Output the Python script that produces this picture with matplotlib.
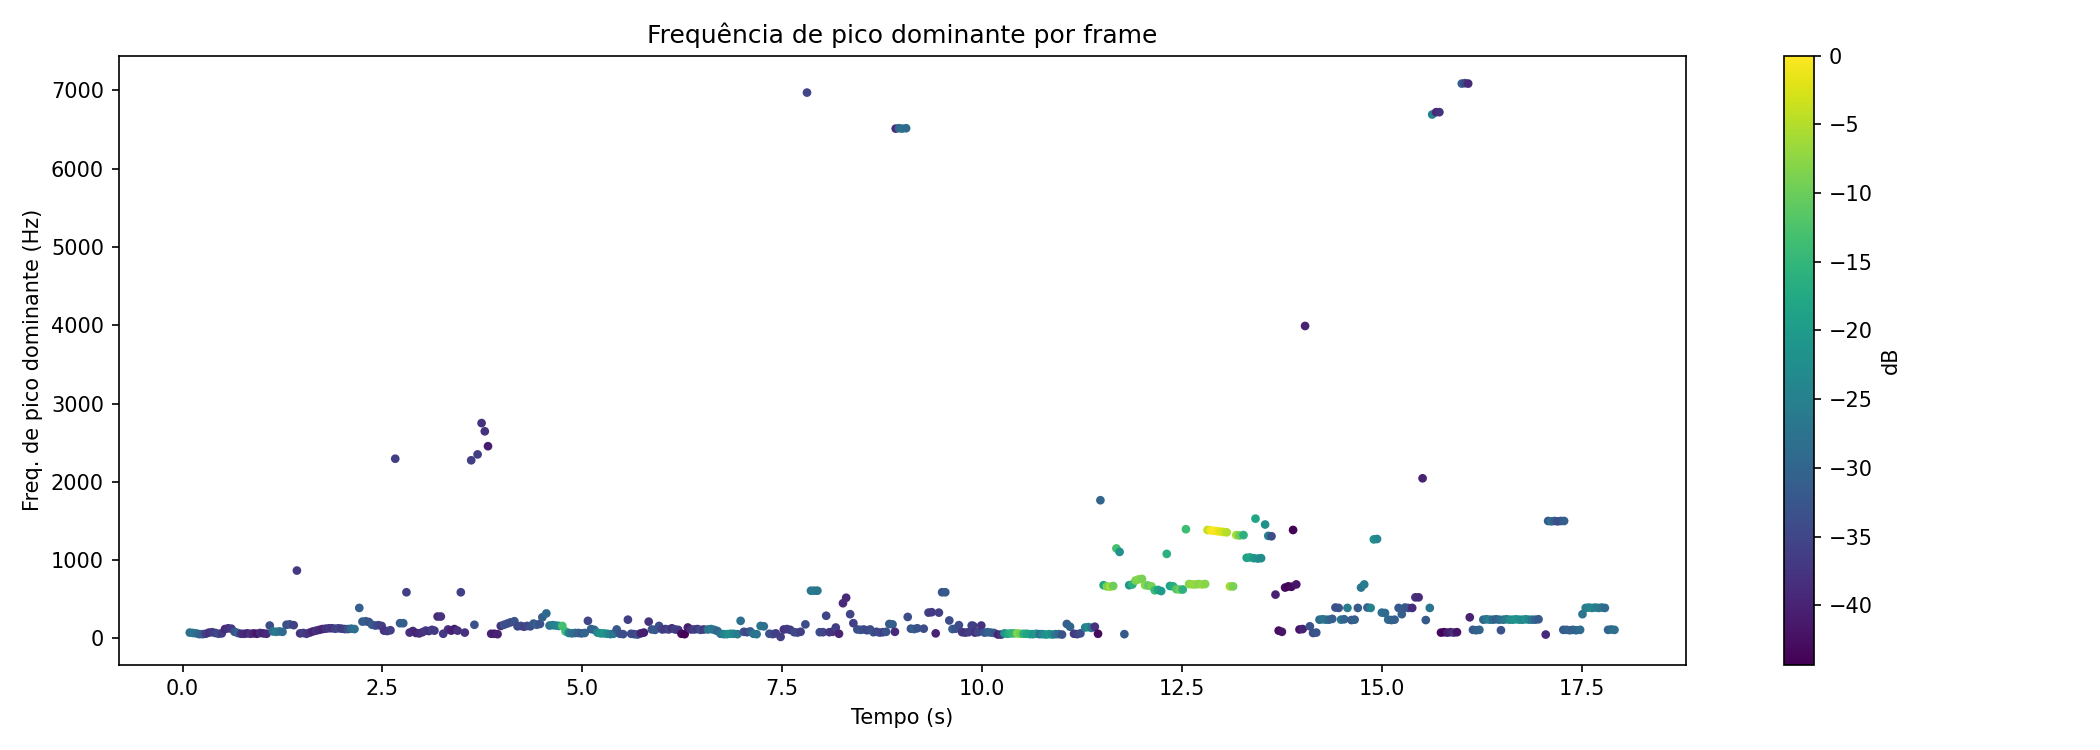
import numpy as np
import matplotlib.pyplot as plt

# tempo de cada frame (s)
tempo = [
    0.09, 0.13, 0.17, 0.21, 0.25, 0.29, 0.33, 0.37, 0.41, 0.45, 0.49, 0.53, 0.57, 0.61, 0.65, 0.69, 0.73, 0.77, 0.81, 0.85, 0.89, 0.93, 0.97, 1.01, 1.05,
    1.09, 1.13, 1.17, 1.21, 1.25, 1.30, 1.34, 1.39, 1.43, 1.47, 1.51, 1.55, 1.59, 1.63, 1.67, 1.71, 1.75, 1.79, 1.83, 1.87, 1.91, 1.95, 1.99, 2.03, 2.07, 2.11, 2.15,
    2.21, 2.25, 2.29, 2.33, 2.37, 2.41, 2.45, 2.49, 2.52, 2.56, 2.60, 2.66, 2.72, 2.76, 2.80, 2.84, 2.88, 2.92, 2.96, 3.00,
    3.04, 3.08, 3.12, 3.15, 3.19, 3.23, 3.26, 3.32, 3.36, 3.40, 3.44, 3.48, 3.53, 3.61, 3.65, 3.69, 3.74, 3.78, 3.82, 3.86, 3.90, 3.94, 3.98,
    4.02, 4.06, 4.10, 4.15, 4.19, 4.23, 4.27, 4.31, 4.35, 4.39, 4.43, 4.47, 4.50, 4.55, 4.59, 4.63, 4.67, 4.71, 4.75, 4.79, 4.83, 4.87, 4.91, 4.95, 4.99,
    5.03, 5.07, 5.11, 5.15, 5.19, 5.23, 5.27, 5.31, 5.35, 5.39, 5.43, 5.47, 5.51, 5.57, 5.61, 5.65, 5.69, 5.73, 5.77, 5.83, 5.87, 5.91, 5.96, 6.00,
    6.04, 6.08, 6.12, 6.16, 6.20, 6.24, 6.28, 6.32, 6.36, 6.40, 6.44, 6.48, 6.52, 6.57, 6.61, 6.65, 6.69, 6.73, 6.77, 6.81, 6.85, 6.89, 6.94, 6.98,
    7.02, 7.06, 7.10, 7.14, 7.18, 7.23, 7.27, 7.34, 7.38, 7.42, 7.48, 7.52, 7.56, 7.60, 7.65, 7.69, 7.73, 7.79, 7.81, 7.86, 7.90, 7.94, 7.97,
    8.01, 8.05, 8.09, 8.13, 8.17, 8.21, 8.26, 8.30, 8.35, 8.39, 8.44, 8.48, 8.52, 8.56, 8.60, 8.64, 8.68, 8.72, 8.76, 8.80, 8.84, 8.88, 8.91, 8.92, 8.96, 9.00,
    9.05, 9.07, 9.11, 9.15, 9.19, 9.27, 9.33, 9.37, 9.42, 9.46, 9.50, 9.54, 9.59, 9.63, 9.67, 9.71, 9.75, 9.79, 9.83, 9.87, 9.89, 9.91, 9.95, 9.99,
    10.03, 10.07, 10.11, 10.15, 10.20, 10.24, 10.28, 10.32, 10.36, 10.40, 10.44, 10.48, 10.52, 10.56, 10.60, 10.64, 10.68, 10.72, 10.76, 10.80, 10.84, 10.88, 10.92, 10.96, 11.00, 11.06, 11.10, 11.15, 11.19, 11.23, 11.29, 11.33, 11.37, 11.41, 11.45,
    11.48, 11.52, 11.56, 11.60, 11.64, 11.68, 11.72, 11.78, 11.84, 11.88, 11.92, 11.96, 12.00, 12.04, 12.08, 12.12, 12.16, 12.20, 12.24, 12.31, 12.35, 12.39, 12.43, 12.47, 12.51, 12.55,
    12.59, 12.63, 12.67, 12.71, 12.75, 12.79, 12.82, 12.86, 12.90, 12.94, 12.98, 13.02, 13.06, 13.10, 13.14, 13.18, 13.22, 13.27, 13.31, 13.35, 13.40, 13.42, 13.45, 13.49, 13.54, 13.58, 13.62,
    13.67, 13.71, 13.75, 13.79, 13.83, 13.87, 13.89, 13.93, 13.97, 14.01, 14.04, 14.10, 14.14, 14.18, 14.22, 14.26, 14.30, 14.34, 14.38, 14.42, 14.46, 14.49,
    14.53, 14.57, 14.62, 14.66, 14.70, 14.74, 14.78, 14.82, 14.86, 14.90, 14.94, 15.00, 15.04, 15.08, 15.12, 15.16, 15.21, 15.25, 15.29, 15.33, 15.38, 15.42, 15.46, 15.51,
    15.55, 15.60, 15.63, 15.68, 15.72, 15.74, 15.78, 15.82, 15.86, 15.90, 15.94, 16.00, 16.04, 16.08, 16.10, 16.14, 16.18, 16.22, 16.27, 16.31, 16.35, 16.39, 16.43, 16.47,
    16.49, 16.52, 16.56, 16.60, 16.64, 16.68, 16.72, 16.76, 16.80, 16.84, 16.88, 16.92, 16.96, 17.05, 17.08, 17.12, 17.16, 17.20, 17.24, 17.28, 17.27, 17.31, 17.35, 17.39, 17.43, 17.48, 17.51, 17.55, 17.59, 17.63, 17.67, 17.71, 17.75, 17.79, 17.83, 17.87, 17.91,
]

# frequencia de pico dominante (Hz)
freq_pico = [
    75, 70, 65, 55, 55, 60, 75, 80, 70, 60, 65, 120, 130, 125, 85, 70, 60, 60, 65, 60, 65, 60, 70, 65, 60,
    165, 90, 85, 90, 85, 175, 180, 170, 867, 65, 70, 60, 75, 90, 100, 110, 120, 125, 130, 130, 125, 130, 125, 120, 120, 125, 120,
    390, 215, 220, 210, 175, 165, 170, 160, 100, 95, 105, 2295, 195, 195, 590, 75, 95, 70, 65, 80,
    100, 95, 110, 100, 280, 280, 60, 115, 100, 120, 100, 590, 75, 2275, 175, 2350, 2750, 2645, 2455, 60, 60, 55, 160,
    175, 190, 205, 220, 155, 160, 150, 160, 155, 190, 175, 185, 270, 320, 165, 170, 165, 160, 160, 90, 70, 65, 70, 70, 65,
    70, 225, 120, 110, 75, 65, 65, 60, 55, 60, 115, 60, 55, 240, 60, 55, 50, 65, 75, 215, 115, 110, 160, 115,
    120, 115, 130, 115, 110, 60, 55, 140, 115, 115, 120, 110, 115, 115, 120, 110, 95, 60, 55, 55, 60, 60, 55, 225,
    85, 80, 90, 60, 55, 160, 155, 60, 55, 65, 20, 115, 120, 110, 80, 75, 85, 180, 6970, 610, 610, 610, 80,
    80, 290, 80, 85, 140, 60, 450, 520, 310, 195, 115, 110, 115, 105, 115, 80, 85, 75, 80, 85, 185, 180, 85, 6510, 6515, 6510,
    6515, 275, 125, 120, 130, 125, 330, 335, 65, 330, 590, 590, 230, 120, 125, 170, 80, 75, 80, 165, 160, 75, 80, 165,
    75, 80, 75, 70, 50, 50, 65, 60, 65, 65, 65, 60, 60, 60, 55, 55, 60, 55, 55, 50, 55, 50, 55, 55, 50, 185, 150, 60, 55, 65, 140, 145, 135, 150, 60,
    1765, 680, 665, 660, 670, 1150, 1105, 55, 680, 690, 740, 755, 760, 680, 675, 665, 615, 620, 605, 1080, 670, 665, 630, 625, 625, 1395,
    695, 690, 690, 695, 690, 695, 1385, 1380, 1375, 1370, 1365, 1360, 1355, 665, 665, 1320, 1315, 1320, 1030, 1035, 1025, 1530, 1020, 1025, 1455, 1310, 1305,
    560, 100, 85, 650, 665, 660, 1385, 690, 115, 120, 3990, 155, 70, 75, 240, 245, 240, 240, 250, 395, 390, 240,
    245, 390, 235, 240, 390, 650, 690, 395, 390, 1265, 1270, 330, 325, 240, 235, 240, 390, 310, 395, 390, 390, 525, 525, 2045,
    235, 390, 6690, 6720, 6720, 75, 80, 75, 80, 75, 80, 7085, 7090, 7085, 270, 110, 105, 110, 240, 245, 240, 240, 245, 240,
    105, 240, 245, 240, 240, 245, 240, 240, 245, 240, 240, 240, 245, 50, 1500, 1495, 1500, 1495, 1500, 1500, 110, 110, 105, 110, 105, 110, 310, 390, 395, 390, 395, 390, 395, 390, 110, 115, 110,
]

# magnitude do pico (dB)
mag_db = [
    -28, -27, -28, -30, -31, -36, -38, -37, -36, -34, -37, -39, -38, -37, -33, -30, -38, -39, -40, -38, -40, -42, -39, -40, -39,
    -34, -28, -26, -27, -29, -34, -33, -36, -37, -38, -36, -37, -38, -40, -38, -39, -40, -38, -37, -38, -36, -35, -37, -36, -33, -29, -28,
    -31, -32, -31, -33, -32, -33, -35, -36, -38, -37, -36, -36, -32, -31, -36, -38, -39, -40, -39, -38,
    -37, -38, -36, -37, -39, -38, -37, -38, -40, -41, -38, -36, -38, -36, -33, -36, -38, -38, -41, -40, -41, -40, -38,
    -33, -34, -34, -33, -35, -34, -36, -35, -34, -32, -31, -33, -31, -29, -27, -26, -25, -24, -13, -14, -25, -28, -29, -31, -32,
    -30, -35, -31, -30, -24, -22, -21, -23, -25, -27, -32, -33, -34, -36, -34, -35, -33, -40, -41, -38, -33, -32, -34, -36,
    -37, -35, -38, -36, -37, -43, -44.3, -41, -38, -36, -37, -34, -37, -28, -26, -27, -30, -28, -25, -23, -22, -24, -26, -28,
    -33, -35, -32, -28, -27, -27, -28, -33, -34, -36, -36, -38, -37, -37, -35, -34, -36, -34, -35, -27, -26, -27, -34,
    -35, -35, -37, -38, -36, -40, -39, -39, -35, -36, -34, -33, -34, -35, -34, -33, -35, -34, -36, -33, -32, -31, -39, -39, -29, -28,
    -29, -34, -33, -31, -33, -34, -36, -37, -40, -36, -33, -32, -34, -31, -33, -34, -37, -38, -36, -35, -36, -38, -35, -38,
    -33, -31, -30, -32, -40, -38, -22, -18, -16, -15, -8, -10, -16, -18, -19, -21, -20, -28, -24, -22, -21, -23, -27, -29, -33, -31, -30, -37, -36, -34, -25, -23, -27, -38, -43,
    -30, -18, -9, -6, -10, -13, -22, -32, -21, -16, -9, -8, -9, -8, -11, -9, -14, -18, -20, -16, -18, -17, -12, -10, -16, -14,
    -8, -7, -7, -8, -7, -8, -4, -1, 0.0, -1, -2, -3, -5, -6, -9, -6, -10, -16, -19, -18, -21, -18, -22, -23, -22, -25, -34,
    -40, -43, -42, -43, -44, -43, -44, -42, -42, -40, -40, -33, -34, -33, -29, -28, -27, -30, -31, -34, -33, -27,
    -30, -26, -32, -31, -32, -27, -26, -31, -25, -22, -24, -28, -29, -29, -30, -31, -32, -31, -32, -33, -39, -38, -39, -40,
    -32, -27, -25, -39, -38, -43, -44, -41, -40, -38, -42, -31, -35, -39, -40, -32, -31, -30, -30, -27, -25, -29, -31, -29,
    -33, -27, -26, -23, -22, -21, -22, -24, -22, -24, -27, -30, -32, -39, -32, -28, -31, -34, -33, -31, -32, -31, -30, -31, -30, -29, -27, -26, -25, -24, -25, -26, -27, -29, -30, -29, -28,
]

fig, ax = plt.subplots(figsize=(14, 5), dpi=150)
sc = ax.scatter(tempo, freq_pico, c=mag_db, cmap='viridis', s=10)
ax.set_title('Frequência de pico dominante por frame')
ax.set_xlabel('Tempo (s)')
ax.set_ylabel('Freq. de pico dominante (Hz)')
plt.colorbar(sc, ax=ax, label='dB')
plt.tight_layout()
plt.savefig('out.png')
